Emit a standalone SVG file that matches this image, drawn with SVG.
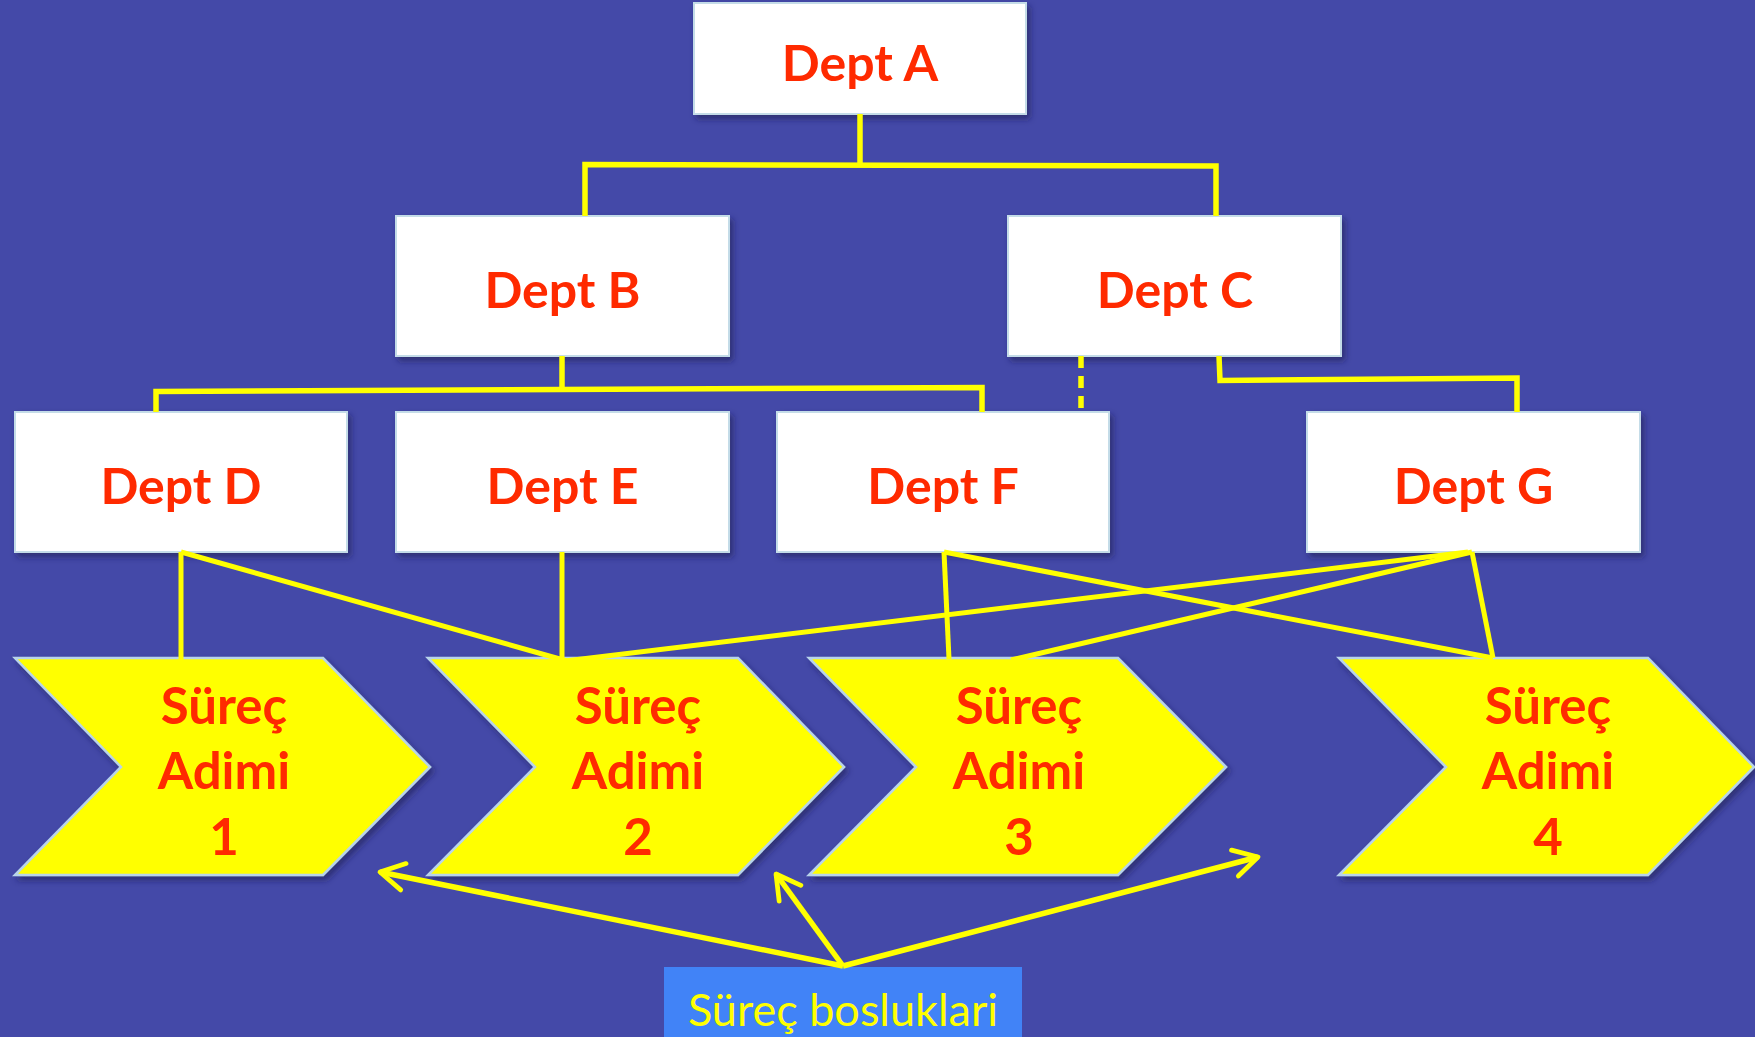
<svg xmlns="http://www.w3.org/2000/svg" width="1755" height="1037" viewBox="0 0 1755 1037">
<defs>
<style>
.box{fill:#FFFFFF;stroke:#C4DCE8;stroke-width:2;filter:url(#sh)}
.chev{fill:#FFFF00;stroke:#B8D4EA;stroke-width:2.5;filter:url(#sh)}
.dept{font-family:Lato,"Liberation Sans",sans-serif;font-weight:bold;font-size:50px;fill:#FF2A00;text-anchor:middle}
.step{font-family:Lato,"Liberation Sans",sans-serif;font-weight:bold;font-size:51px;fill:#FF2A00;text-anchor:middle}
.ln{fill:none;stroke:#FFFF00;stroke-width:5.5;stroke-linejoin:miter;stroke-linecap:butt}
.ln2{fill:none;stroke:#FFFF00;stroke-width:5}
.arr{fill:none;stroke:#FFFF00;stroke-width:5.5;marker-end:url(#ah)}
</style>
<filter id="sh" x="-10%" y="-10%" width="130%" height="130%">
<feDropShadow dx="3" dy="4" stdDeviation="3" flood-color="#1a1d50" flood-opacity="0.6"/>
</filter>
<marker id="ah" viewBox="0 0 12 12" refX="10" refY="6" markerWidth="6.5" markerHeight="6.5" orient="auto" markerUnits="strokeWidth">
<path d="M2,1.5 L10,6 L2,10.5" fill="none" stroke="#FFFF00" stroke-width="1.6" stroke-linecap="round" stroke-linejoin="round"/>
</marker>
</defs>
<rect x="0" y="0" width="1755" height="1037" fill="#4449A8"/>

<g id="dept-a"><rect class="box" x="694" y="3" width="332" height="111"/><text class="dept" x="860" y="81">Dept A</text></g>
<g id="dept-b"><rect class="box" x="396" y="216" width="333" height="140"/><text class="dept" x="562.5" y="308">Dept B</text></g>
<g id="dept-c"><rect class="box" x="1008" y="216" width="333" height="140"/><text class="dept" x="1175" y="308">Dept C</text></g>
<g id="dept-d"><rect class="box" x="15" y="412" width="332" height="140"/><text class="dept" x="181" y="504">Dept D</text></g>
<g id="dept-e"><rect class="box" x="396" y="412" width="333" height="140"/><text class="dept" x="562.5" y="504">Dept E</text></g>
<g id="dept-f"><rect class="box" x="777" y="412" width="332" height="140"/><text class="dept" x="943" y="504">Dept F</text></g>
<g id="dept-g"><rect class="box" x="1307" y="412" width="333" height="140"/><text class="dept" x="1473.5" y="504">Dept G</text></g>

<g id="step-1"><polygon class="chev" points="15,658 323,658 430,767 323,875 15,875 121,767"/>
<text class="step" x="224" y="724">Süreç</text><text class="step" x="224" y="789">Adimi</text><text class="step" x="224" y="855">1</text></g>
<g id="step-2"><polygon class="chev" points="428,658 738,658 844,767 738,875 428,875 535,767"/>
<text class="step" x="638" y="724">Süreç</text><text class="step" x="638" y="789">Adimi</text><text class="step" x="638" y="855">2</text></g>
<g id="step-3"><polygon class="chev" points="809,658 1118,658 1226,767 1118,875 809,875 916,767"/>
<text class="step" x="1019" y="724">Süreç</text><text class="step" x="1019" y="789">Adimi</text><text class="step" x="1019" y="855">3</text></g>
<g id="step-4"><polygon class="chev" points="1339,658 1648,658 1754,767 1648,875 1339,875 1446,767"/>
<text class="step" x="1548" y="724">Süreç</text><text class="step" x="1548" y="789">Adimi</text><text class="step" x="1548" y="855">4</text></g>

<g id="gaps-label"><rect x="664" y="967" width="358" height="72" fill="#4183F7"/>
<text x="843" y="1026" font-family="Lato,'Liberation Sans',sans-serif" font-size="45" fill="#FFFF00" text-anchor="middle">Süreç bosluklari</text></g>

<g id="connectors">
<path class="ln" d="M860,114 V164.5"/>
<path class="ln" d="M585,216 V164.5 L1216,166 V216"/>
<path class="ln" d="M562,356 V390"/>
<path class="ln" d="M156,412 V391.5 L982,387.5 V412"/>
<path class="ln" d="M1081,356 V412" stroke-dasharray="12 8"/>
<path class="ln" d="M1219,356 L1220,380.5 L1517,378 V412"/>
<path class="ln2" d="M181,552 V660"/>
<path class="ln2" d="M181,552 L567,661"/>
<path class="ln2" d="M562,552 V660"/>
<path class="ln2" d="M565,661 L1468,552"/>
<path class="ln2" d="M944,552 L949,659"/>
<path class="ln2" d="M944,552 L1493,658"/>
<path class="ln2" d="M1472,552 L1011,660"/>
<path class="ln2" d="M1472,552 L1493,658"/>
<path class="arr" d="M843,966 L380,872"/>
<path class="arr" d="M843,966 L776,874"/>
<path class="arr" d="M843,966 L1258,857"/>
</g>
</svg>
